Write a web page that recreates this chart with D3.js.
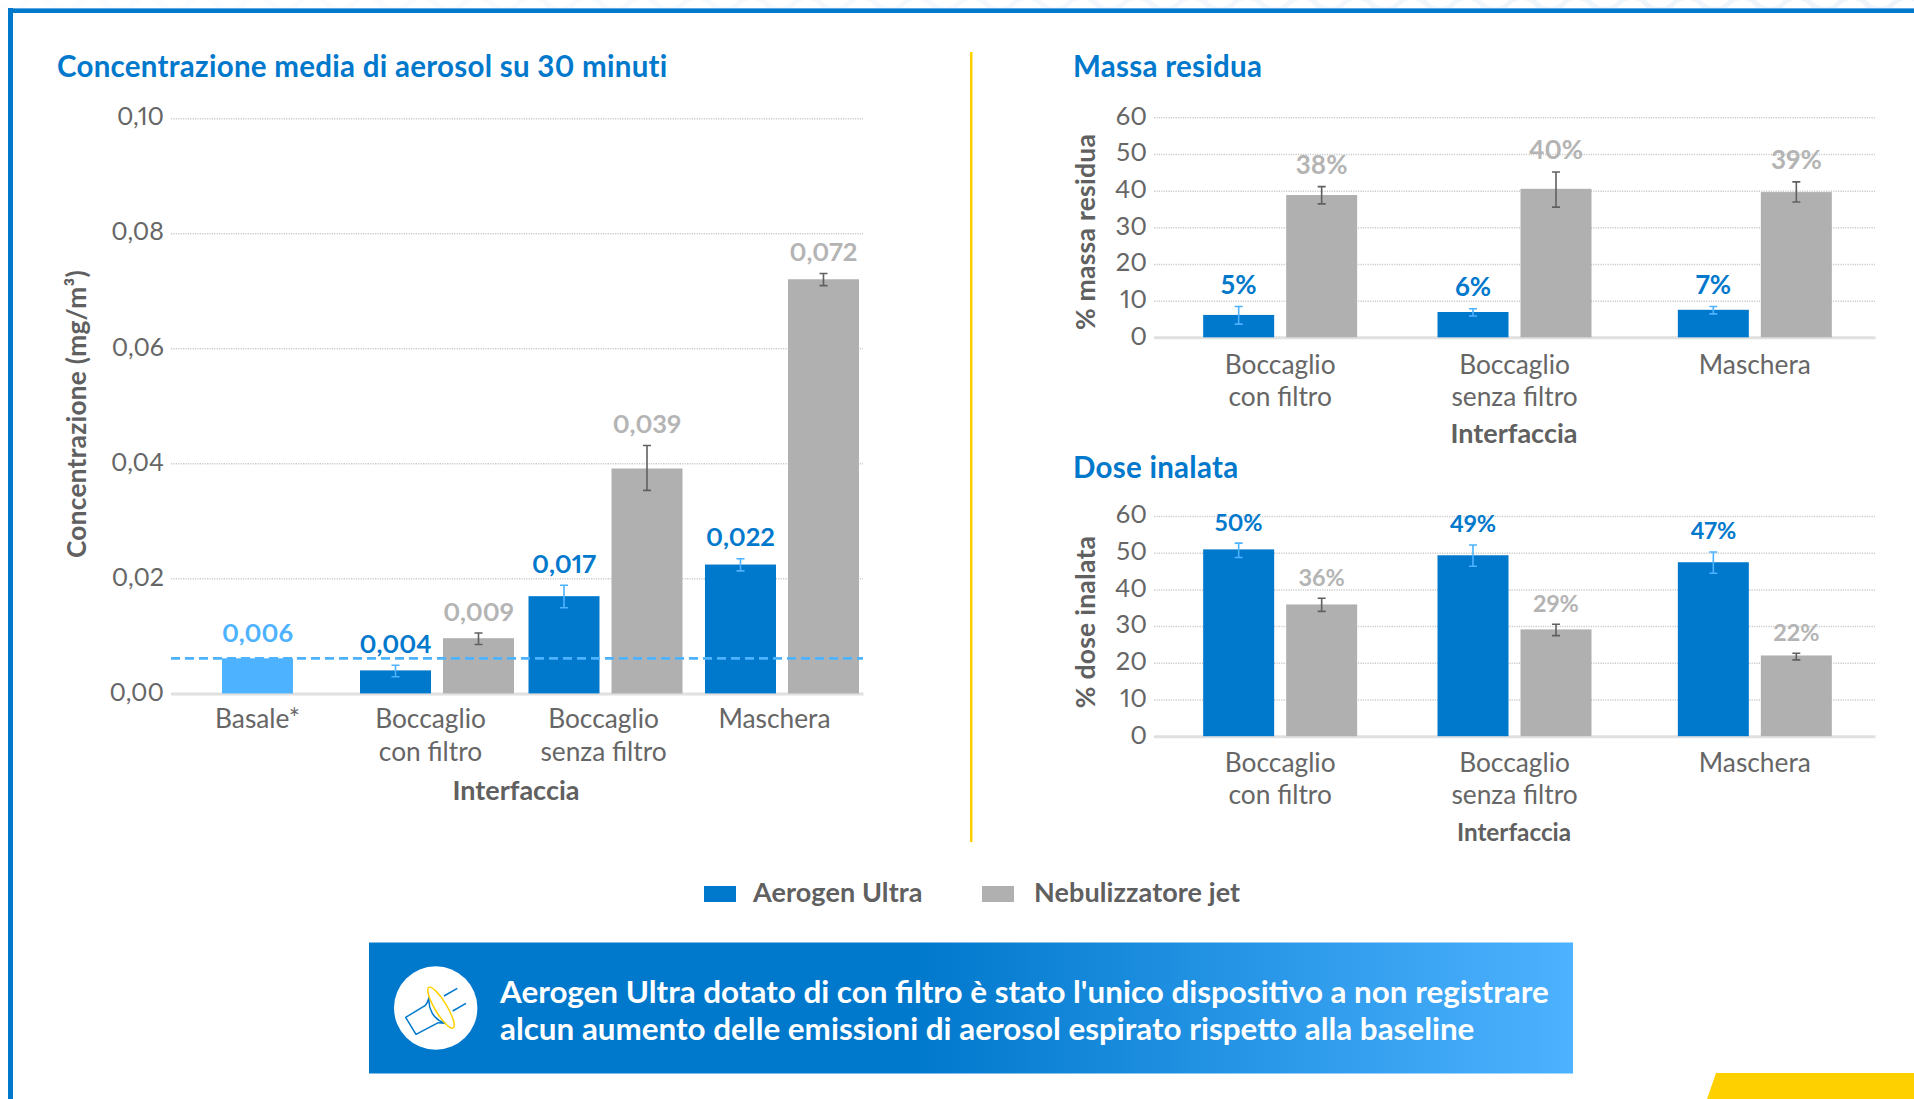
<!DOCTYPE html>
<meta charset="utf-8">
<script src="https://d3js.org/d3.v7.min.js"></script>
<style>
  body { margin: 0; background: #fff; }
  text { font-family: Lato, sans-serif; font-variant-numeric: proportional-nums; }
</style>
<div id="my_dataviz"></div>

<script>
// ---- data ----
var mainCategories = ["Basale*", "Boccaglio\ncon filtro", "Boccaglio\nsenza filtro", "Maschera"];
var mainTicks = [0, 0.02, 0.04, 0.06, 0.08, 0.10];
var baseline = 0.0061;
var basaleValues = [0.0061, null, null, null];
var basaleLabels = ["0,006", null, null, null];
var mainUltra = [null, 0.004, 0.0169, 0.0224];
var mainUltraLo = [null, 0.0029, 0.0149, 0.0213];
var mainUltraHi = [null, 0.0049, 0.0188, 0.0234];
var mainUltraLabels = [null, "0,004", "0,017", "0,022"];
var mainJet = [null, 0.0096, 0.0391, 0.072];
var mainJetLo = [null, 0.0085, 0.0353, 0.0709];
var mainJetHi = [null, 0.0105, 0.0431, 0.073];
var mainJetLabels = [null, "0,009", "0,039", "0,072"];

var sideCategories = ["Boccaglio\ncon filtro", "Boccaglio\nsenza filtro", "Maschera"];
var sideTicks = [0, 10, 20, 30, 40, 50, 60];

var massUltra = [6.1, 6.9, 7.5];
var massUltraLo = [3.6, 5.8, 6.4];
var massUltraHi = [8.4, 7.8, 8.4];
var massUltraLabels = ["5%", "6%", "7%"];
var massJet = [38.8, 40.5, 39.6];
var massJetLo = [36.4, 35.5, 36.9];
var massJetHi = [41.1, 45.1, 42.4];
var massJetLabels = ["38%", "40%", "39%"];

var doseUltra = [50.9, 49.3, 47.4];
var doseUltraLo = [48.7, 46.3, 44.4];
var doseUltraHi = [52.6, 52.1, 50.2];
var doseUltraLabels = ["50%", "49%", "47%"];
var doseJet = [35.9, 29.1, 22];
var doseJetLo = [34, 27.4, 20.8];
var doseJetHi = [37.6, 30.5, 22.6];
var doseJetLabels = ["36%", "29%", "22%"];

var legendNames = ["Aerogen Ultra", "Nebulizzatore jet"];

// ---- colours ----
var BLUE = "#0078cc", LIGHT = "#4db2ff", GREY = "#b0b0b0", LABELGREY = "#b4b4b4",
    DARK = "#606060", YELLOW = "#ffd000";

var svg = d3.select("#my_dataviz")
  .append("svg")
    .attr("width", 1914)
    .attr("height", 1099)
    .style("display", "block");
var defs = svg.append("defs");

// pale scalloped strip above the frame
var strip = defs.append("linearGradient").attr("id", "strip");
strip.append("stop").attr("offset", "0%").attr("stop-color", "#fcfdfe");
strip.append("stop").attr("offset", "100%").attr("stop-color", "#eef4fa");
defs.append("clipPath").attr("id", "stripClip").append("rect")
  .attr("width", 1914).attr("height", 8);
var top_ = svg.append("g").attr("clip-path", "url(#stripClip)");
top_.append("rect").attr("width", 1914).attr("height", 8).attr("fill", "url(#strip)");
top_.selectAll("circle.a").data(d3.range(0, 35)).enter().append("circle")
  .attr("cx", function(k) { return 10 + 55 * k; }).attr("cy", -10).attr("r", 17).attr("fill", "#fff");
top_.selectAll("circle.b").data(d3.range(0, 35)).enter().append("circle")
  .attr("cx", function(k) { return 37 + 55 * k; }).attr("cy", 17).attr("r", 17).attr("fill", "#fff");

// frame and decorations
svg.append("rect").attr("x", 8).attr("y", 8).attr("width", 1906).attr("height", 5).attr("fill", BLUE);
svg.append("rect").attr("x", 8).attr("y", 8).attr("width", 1906).attr("height", 1).attr("fill", "#5aa9e0");
svg.append("rect").attr("x", 8).attr("y", 8).attr("width", 5).attr("height", 1091).attr("fill", BLUE);
svg.append("rect").attr("x", 970).attr("y", 52).attr("width", 2.5).attr("height", 790).attr("fill", YELLOW);
svg.append("polygon").attr("points", "1716,1073 1914,1073 1914,1099 1707,1099").attr("fill", YELLOW);

function title(txt, x, y) {
  svg.append("text").attr("x", x).attr("y", y)
    .attr("font-size", 29.5).attr("font-weight", 700).attr("fill", BLUE)
    .style("letter-spacing", "0.27px").text(txt);
}
title("Concentrazione media di aerosol su 30 minuti", 57, 77);
title("Massa residua", 1073, 77);
title("Dose inalata", 1073, 478);

function drawPanel(cfg) {
  var g = svg.append("g");
  var x = d3.scaleBand().domain(cfg.categories).range(cfg.xRange);
  var y = d3.scaleLinear().domain(cfg.yDomain).range(cfg.yRange);
  var barW = 71, gap = 12;

  // y axis with dotted grid
  var yAxis = g.append("g")
    .attr("transform", "translate(" + cfg.xRange[0] + ",0)")
    .call(d3.axisLeft(y).tickValues(cfg.ticks).tickFormat(cfg.tickFormat)
      .tickSize(-(cfg.xRange[1] - cfg.xRange[0])).tickPadding(7));
  yAxis.select(".domain").remove();
  yAxis.selectAll("line").attr("stroke", "#cacaca").attr("stroke-width", 1.5).attr("stroke-dasharray", "1.2 1.2");
  yAxis.selectAll("text").attr("font-size", cfg.tickSize).attr("fill", "#666").attr("dy", ".27em");

  // x axis
  var xAxis = g.append("g")
    .attr("transform", "translate(0," + cfg.yRange[0] + ")")
    .call(d3.axisBottom(x).tickSize(0));
  xAxis.select(".domain").attr("stroke", "#e0e0e0").attr("stroke-width", 3);
  xAxis.selectAll("text").each(function(d, idx) {
    var t = d3.select(this).attr("dy", null).attr("y", cfg.labelY)
      .attr("font-size", 26.3).attr("fill", "#666").text(null);
    d.split("\n").forEach(function(line, i) {
      t.append("tspan").attr("x", cfg.labelNudge[idx]).attr("dy", i ? cfg.lineH : 0).text(line);
    });
  });

  // bars, error bars, value labels
  cfg.series.forEach(function(s) {
    var rows = cfg.categories.map(function(c, i) {
      return {cat: c, i: i, v: s.values[i], lo: s.lo ? s.lo[i] : null, hi: s.hi ? s.hi[i] : null, label: s.labels[i]};
    }).filter(function(d) { return d.v != null; });
    var cx = function(d) {
      return x(d.cat) + x.bandwidth() / 2 + cfg.nudge[d.i] + s.side * (barW + gap) / 2;
    };
    var sg = g.append("g");
    sg.selectAll("rect").data(rows).enter().append("rect")
      .attr("x", function(d) { return cx(d) - barW / 2; })
      .attr("y", function(d) { return y(d.v); })
      .attr("width", barW)
      .attr("height", function(d) { return y(0) - y(d.v); })
      .attr("fill", s.color);

    var err = rows.filter(function(d) { return d.hi != null; });
    sg.selectAll("path").data(err).enter().append("path")
      .attr("d", function(d) {
        var c = cx(d), w = 4;
        return "M" + (c - w) + "," + y(d.hi) + "H" + (c + w) + "M" + c + "," + y(d.hi) + "V" + y(d.lo) +
               "M" + (c - w) + "," + y(d.lo) + "H" + (c + w);
      })
      .attr("fill", "none").attr("stroke", s.errColor).attr("stroke-width", 1.6);

    sg.selectAll("text").data(rows).enter().append("text")
      .attr("x", cx)
      .attr("y", function(d) { return (d.hi != null ? y(d.hi) - 12.5 : y(d.v) - 16); })
      .attr("text-anchor", "middle")
      .attr("font-size", cfg.valueSize).attr("font-weight", 700)
      .attr("fill", s.labelColor)
      .text(function(d) { return d.label; });
  });

  if (cfg.refLine != null) {
    g.append("line")
      .attr("x1", cfg.xRange[0]).attr("x2", cfg.xRange[1])
      .attr("y1", y(cfg.refLine)).attr("y2", y(cfg.refLine))
      .attr("stroke", LIGHT).attr("stroke-width", 2.8).attr("stroke-dasharray", "9 5");
  }

  // axis titles
  svg.append("text")
    .attr("transform", "translate(" + cfg.yTitleX + "," + cfg.yTitleY + ") rotate(-90)")
    .attr("text-anchor", "middle").attr("font-size", cfg.yTitleSize).attr("font-weight", 700)
    .attr("fill", DARK).style("letter-spacing", "0.25px").text(cfg.yTitle);
  svg.append("text")
    .attr("x", cfg.xTitleX).attr("y", cfg.xTitleBase)
    .attr("text-anchor", "middle").attr("font-size", cfg.xTitleSize).attr("font-weight", 700)
    .attr("fill", DARK).text("Interfaccia");
}

function pair(u, uLo, uHi, uLab, j, jLo, jHi, jLab) {
  return [
    {values: u, lo: uLo, hi: uHi, labels: uLab, color: BLUE, labelColor: BLUE, errColor: LIGHT, side: -1},
    {values: j, lo: jLo, hi: jHi, labels: jLab, color: GREY, labelColor: LABELGREY, errColor: DARK, side: 1}
  ];
}

drawPanel({
  categories: mainCategories, ticks: mainTicks, yDomain: [0, 0.10],
  xRange: [171, 863], yRange: [693.4, 118.2], nudge: [0, 6.5, 2, 5.5], labelNudge: [0, 0, 0, -2],
  tickFormat: function(d) { return d.toFixed(2).replace(".", ","); },
  tickSize: 25, labelY: 35, lineH: 32.5, valueSize: 25.5,
  series: pair(mainUltra, mainUltraLo, mainUltraHi, mainUltraLabels, mainJet, mainJetLo, mainJetHi, mainJetLabels)
    .concat([{values: basaleValues, labels: basaleLabels, color: LIGHT, labelColor: LIGHT, side: 0}]),
  refLine: baseline,
  yTitle: "Concentrazione (mg/m³)", yTitleX: 86, yTitleY: 414, yTitleSize: 26.3,
  xTitleX: 516, xTitleBase: 800, xTitleSize: 27
});

drawPanel({
  categories: sideCategories, ticks: sideTicks, yDomain: [0, 60],
  xRange: [1154, 1875], yRange: [337.3, 117.3], nudge: [6, 0, 0], labelNudge: [6, 0, 0],
  tickFormat: d3.format("d"),
  tickSize: 25.5, labelY: 36.4, lineH: 32, valueSize: 26,
  series: pair(massUltra, massUltraLo, massUltraHi, massUltraLabels, massJet, massJetLo, massJetHi, massJetLabels),
  yTitle: "% massa residua", yTitleX: 1095, yTitleY: 232, yTitleSize: 26.5,
  xTitleX: 1514, xTitleBase: 443, xTitleSize: 27
});

drawPanel({
  categories: sideCategories, ticks: sideTicks, yDomain: [0, 60],
  xRange: [1154, 1875], yRange: [736.2, 516], nudge: [6, 0, 0], labelNudge: [6, 0, 0],
  tickFormat: d3.format("d"),
  tickSize: 25.5, labelY: 35.5, lineH: 32.3, valueSize: 23.5,
  series: pair(doseUltra, doseUltraLo, doseUltraHi, doseUltraLabels, doseJet, doseJetLo, doseJetHi, doseJetLabels),
  yTitle: "% dose inalata", yTitleX: 1095, yTitleY: 622, yTitleSize: 26.5,
  xTitleX: 1514, xTitleBase: 841, xTitleSize: 24.3
});

// legend
var legend = svg.append("g");
[{x: 704, c: BLUE}, {x: 982, c: GREY}].forEach(function(l, i) {
  legend.append("rect").attr("x", l.x).attr("y", 886).attr("width", 32).attr("height", 16).attr("fill", l.c);
  legend.append("text").attr("x", l.x + 49 + (i ? 3 : 0)).attr("y", 902)
    .attr("font-size", 27).attr("font-weight", 700).attr("fill", DARK)
    .style("letter-spacing", "0.1px").text(legendNames[i]);
});

// banner
var grad = defs.append("linearGradient").attr("id", "banner");
grad.append("stop").attr("offset", "45%").attr("stop-color", BLUE);
grad.append("stop").attr("offset", "100%").attr("stop-color", LIGHT);
svg.append("rect").attr("x", 369).attr("y", 942.5).attr("width", 1204).attr("height", 131).attr("fill", "url(#banner)");
svg.append("circle").attr("cx", 435.7).attr("cy", 1008).attr("r", 41.7).attr("fill", "#fff");

var icon = svg.append("g").attr("transform", "translate(370,940) scale(0.3333)")
  .attr("fill", "none").attr("stroke-width", 4.5).attr("stroke-linejoin", "round");
icon.append("path").attr("stroke", BLUE)
  .attr("d", "M178,170C172,205 190,238 225,250L205,248L138,283L107,232L165,197C172,190 175,180 178,170M222,168L262,145M248,213L288,190");
icon.append("ellipse").attr("stroke", YELLOW)
  .attr("transform", "translate(213,203) rotate(59)").attr("rx", 71).attr("ry", 18);

["Aerogen Ultra dotato di con filtro è stato l'unico dispositivo a non registrare",
 "alcun aumento delle emissioni di aerosol espirato rispetto alla baseline"].forEach(function(t, i) {
  svg.append("text").attr("x", 500).attr("y", 1003 + i * 36.5)
    .attr("font-size", 31.4).attr("font-weight", 700).attr("fill", "#fff").text(t);
});
</script>
